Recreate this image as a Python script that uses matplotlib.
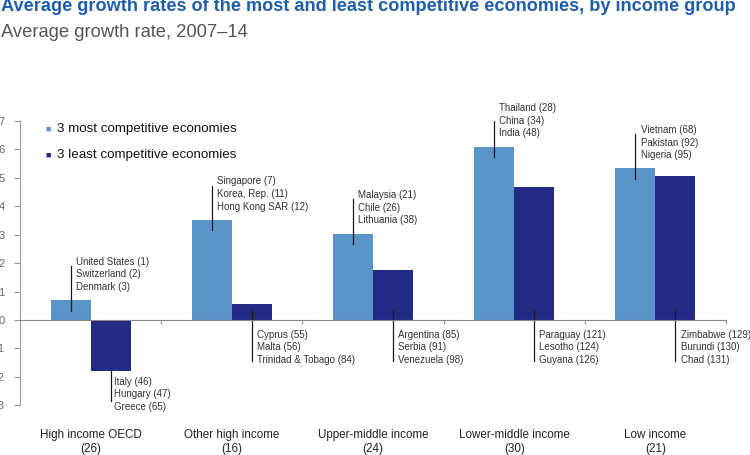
import numpy as np
import matplotlib
matplotlib.use('Agg')
from matplotlib import pyplot as plt

# data
groups = ['High income OECD\n(26)', 'Other high income\n(16)', 'Upper-middle income\n(24)',
          'Lower-middle income\n(30)', 'Low income\n(21)']
most = [0.70, 3.53, 3.04, 6.10, 5.33]
least = [-1.78, 0.56, 1.77, 4.69, 5.06]
most_names = ['United States (1)\nSwitzerland (2)\nDenmark (3)',
              'Singapore (7)\nKorea, Rep. (11)\nHong Kong SAR (12)',
              'Malaysia (21)\nChile (26)\nLithuania (38)',
              'Thailand (28)\nChina (34)\nIndia (48)',
              'Vietnam (68)\nPakistan (92)\nNigeria (95)']
least_names = ['Italy (46)\nHungary (47)\nGreece (65)',
               'Cyprus (55)\nMalta (56)\nTrinidad & Tobago (84)',
               'Argentina (85)\nSerbia (91)\nVenezuela (98)',
               'Paraguay (121)\nLesotho (124)\nGuyana (126)',
               'Zimbabwe (129)\nBurundi (130)\nChad (131)']
yticks = [-3, -2, -1, 0, 1, 2, 3, 4, 5, 6, 7]

light = '#5b93cb'
dark = '#232a84'

plt.rcParams['font.family'] = ['Liberation Sans', 'DejaVu Sans']

fig = plt.figure(figsize=(7.5, 4.55), dpi=100)
ax = fig.add_axes([20 / 750, 49.7 / 455, 706 / 750, 284.3 / 455])

x = np.arange(len(groups))
w = 0.283
ax.bar(x - w / 2, most, w, color=light)
ax.bar(x + w / 2, least, w, color=dark)

ax.set_xlim(-0.5, 4.5)
ax.set_ylim(-3, 7)

# axes look
for s in ['top', 'right']:
    ax.spines[s].set_visible(False)
ax.spines['bottom'].set_position(('data', 0))
ax.spines['bottom'].set_color('#888888')
ax.spines['left'].set_color('#999999')
ax.set_xticks(np.arange(0.5, 4.6, 1))
ax.set_xticklabels([])
ax.tick_params(axis='x', length=3, color='#999999')
ax.set_yticks(yticks)
ax.set_yticklabels([str(t) for t in yticks])
ax.tick_params(axis='y', length=4, color='#999999', labelsize=8, labelcolor='#666666', pad=7)

# callouts
fs = 7.0
dx = 0.037
for i in range(len(groups)):
    cx = x[i] - w / 2
    v = most[i]
    ax.plot([cx, cx], [v - 0.38, v + 1.2], color='#1a1a1a', lw=0.9)
    ax.text(cx + dx, v + 1.52, most_names[i], fontsize=fs, color='#333333',
            va='top', ha='left', linespacing=1.32)

    cx = x[i] + w / 2
    v = least[i]
    if v < 0:
        ax.plot([cx, cx], [v, v - 1.08], color='#1a1a1a', lw=0.9)
        ax.text(cx + dx * 0.7, v - 0.22, least_names[i], fontsize=fs, color='#333333',
                va='top', ha='left', linespacing=1.32)
    else:
        ax.plot([cx, cx], [0.3, -1.45], color='#1a1a1a', lw=0.9)
        ax.text(cx + dx, -0.34, least_names[i], fontsize=fs, color='#333333',
                va='top', ha='left', linespacing=1.32)

# category labels
for i in range(len(groups)):
    ax.text(x[i], -3.85, groups[i], fontsize=8.4, color='#222222',
            ha='center', va='top', linespacing=1.12)

# legend
fig.text(48.5 / 750, 1 - 129 / 455, '\u25a0', color=light, fontsize=6.5, ha='center', va='center')
fig.text(57 / 750, 1 - 129 / 455, '3 most competitive economies', fontsize=9.6,
         color='#111111', va='center')
fig.text(48.5 / 750, 1 - 155 / 455, '\u25a0', color=dark, fontsize=6.5, ha='center', va='center')
fig.text(57 / 750, 1 - 155 / 455, '3 least competitive economies', fontsize=9.6,
         color='#111111', va='center')

# titles
fig.text(1 / 750, 1 - 10.7 / 455,
         'Average growth rates of the most and least competitive economies, by income group',
         fontsize=13.1, fontweight='bold', color='#1f5ea8', va='baseline')
fig.text(1 / 750, 1 - 37.3 / 455, 'Average growth rate, 2007\u201314',
         fontsize=13.2, color='#555555', va='baseline')

plt.savefig('out.png', dpi=100)
